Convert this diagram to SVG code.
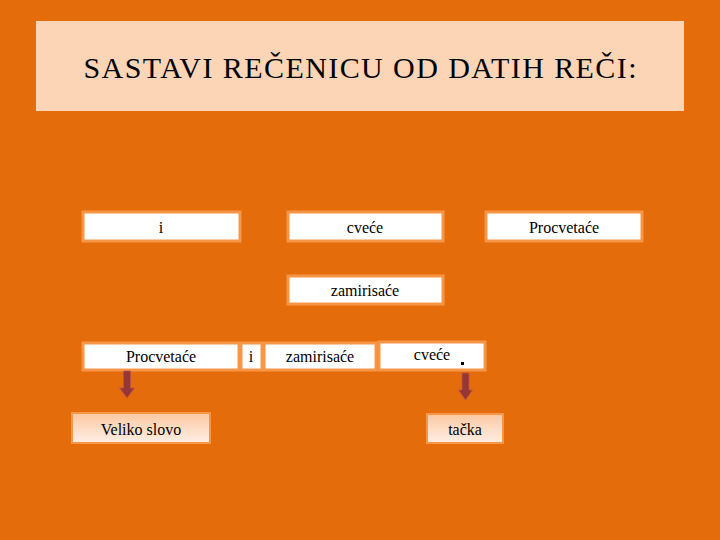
<svg xmlns="http://www.w3.org/2000/svg" width="720" height="540" viewBox="0 0 720 540">
<defs>
<style>
.box{fill:#ffffff;stroke:#F79646;stroke-width:3}
.gbox{fill:url(#peach);stroke:#F79646;stroke-width:2}
.t{font-family:"Times New Roman","Liberation Serif",Tinos,serif;font-size:16px;fill:#000;text-anchor:middle}
.title{font-family:"Times New Roman","Liberation Serif",Tinos,serif;font-size:30px;fill:#000;text-anchor:middle}
.arrow{fill:#953735;stroke:#C0504D;stroke-width:0.8}
</style>
<linearGradient id="peach" x1="0" y1="0" x2="0" y2="1">
<stop offset="0" stop-color="#FBC7A0"/>
<stop offset="0.5" stop-color="#FDDCC4"/>
<stop offset="1" stop-color="#FEEEE3"/>
</linearGradient>
</defs>
<rect x="0" y="0" width="720" height="540" fill="#E46C0A"/>
<g id="title">
<rect x="36" y="21" width="648" height="90" fill="#FBD5B5"/>
<text class="title" x="360" y="78" textLength="553" lengthAdjust="spacing">SASTAVI REČENICU OD DATIH REČI:</text>
</g>
<g id="w-i"><rect class="box" x="83" y="212" width="157" height="29"/><text class="t" x="161" y="233">i</text></g>
<g id="w-cvece"><rect class="box" x="288" y="212" width="155" height="29"/><text class="t" x="365" y="233">cveće</text></g>
<g id="w-procvetace"><rect class="box" x="486" y="212" width="156" height="29"/><text class="t" x="564" y="233">Procvetaće</text></g>
<g id="w-zamirisace"><rect class="box" x="288" y="276" width="155" height="28"/><text class="t" x="365" y="296">zamirisaće</text></g>
<g id="s-procvetace"><rect class="box" x="83" y="343" width="156" height="27"/><text class="t" x="161" y="362">Procvetaće</text></g>
<g id="s-i"><rect class="box" x="241" y="343" width="21" height="27"/><text class="t" x="251" y="362">i</text></g>
<g id="s-zamirisace"><rect class="box" x="264" y="343" width="112" height="27"/><text class="t" x="320" y="362">zamirisaće</text></g>
<g id="s-cvece"><rect class="box" x="379" y="342" width="106" height="28"/><text class="t" x="432" y="360">cveće</text><rect x="461" y="362" width="3" height="3" fill="#000"/></g>
<g id="veliko"><rect class="gbox" x="72" y="413" width="138" height="30"/><text class="t" x="141" y="435">Veliko slovo</text></g>
<g id="tacka"><rect class="gbox" x="427" y="414" width="76" height="29"/><text class="t" x="465" y="435">tačka</text></g>
<g id="connectors">
<path class="arrow" d="M123.5 371 L130.5 371 L130.5 388 L134.5 388 L127 398 L119.5 388 L123.5 388 Z"/>
<path class="arrow" d="M462 373 L469 373 L469 390 L472.5 390 L465.5 400 L458.5 390 L462 390 Z"/>
</g>
</svg>
